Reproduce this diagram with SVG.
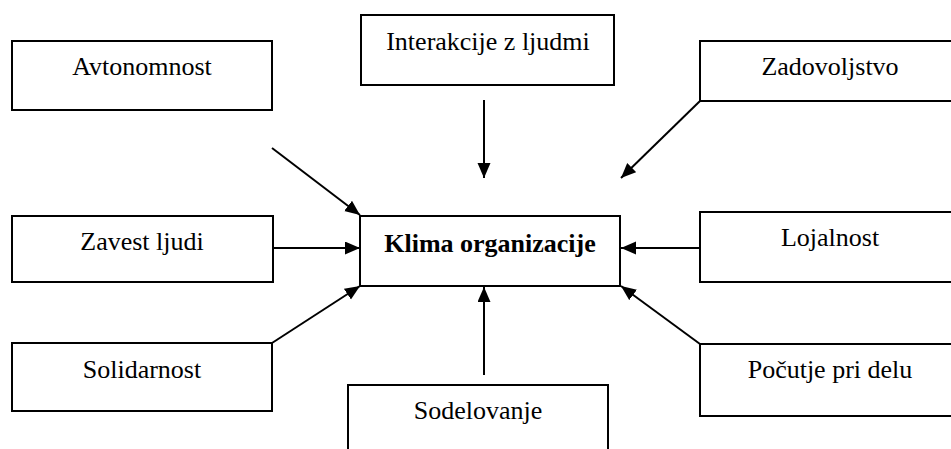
<svg xmlns="http://www.w3.org/2000/svg" width="951" height="449" viewBox="0 0 951 449">
<style>
rect{fill:#fff;stroke:#000;stroke-width:2}
text{font-family:"Liberation Serif","Times New Roman",serif;font-size:26px;text-anchor:middle;fill:#000}
.b{font-weight:bold}
#connectors line{stroke:#000;stroke-width:2;marker-end:url(#ah)}
</style>
<defs>
<marker id="ah" markerUnits="userSpaceOnUse" markerWidth="16" markerHeight="14" refX="15" refY="6.5" orient="auto">
<path d="M0,0 L15,6.5 L0,13 z" fill="#000"/>
</marker>
</defs>
<rect x="0" y="0" width="951" height="449" style="stroke:none"/>
<g id="avtonomnost"><rect x="12" y="41" width="260" height="69"/><text x="142" y="75">Avtonomnost</text></g>
<g id="interakcije"><rect x="361" y="15" width="253" height="70"/><text x="488" y="50">Interakcije z ljudmi</text></g>
<g id="zadovoljstvo"><rect x="700" y="41" width="262" height="60"/><text x="830" y="75">Zadovoljstvo</text></g>
<g id="zavest"><rect x="12" y="216" width="261" height="66"/><text x="142" y="250">Zavest ljudi</text></g>
<g id="klima"><rect x="360" y="216" width="260" height="70"/><text class="b" x="490" y="252">Klima organizacije</text></g>
<g id="lojalnost"><rect x="700" y="212" width="262" height="70"/><text x="830" y="246">Lojalnost</text></g>
<g id="solidarnost"><rect x="12" y="343" width="260" height="68"/><text x="142" y="378">Solidarnost</text></g>
<g id="pocutje"><rect x="700" y="344" width="262" height="72"/><text x="830" y="378">Počutje pri delu</text></g>
<g id="sodelovanje"><rect x="348" y="385" width="260" height="80"/><text x="478" y="419">Sodelovanje</text></g>
<g id="connectors">
<line x1="484" y1="100" x2="484" y2="178"/>
<line x1="272" y1="148" x2="360" y2="215"/>
<line x1="700" y1="101" x2="621" y2="178"/>
<line x1="273" y1="248" x2="360" y2="248"/>
<line x1="700" y1="248" x2="621" y2="248"/>
<line x1="272" y1="343" x2="360" y2="286"/>
<line x1="700" y1="344" x2="621" y2="286"/>
<line x1="484" y1="375" x2="484" y2="287"/>
</g>
</svg>
